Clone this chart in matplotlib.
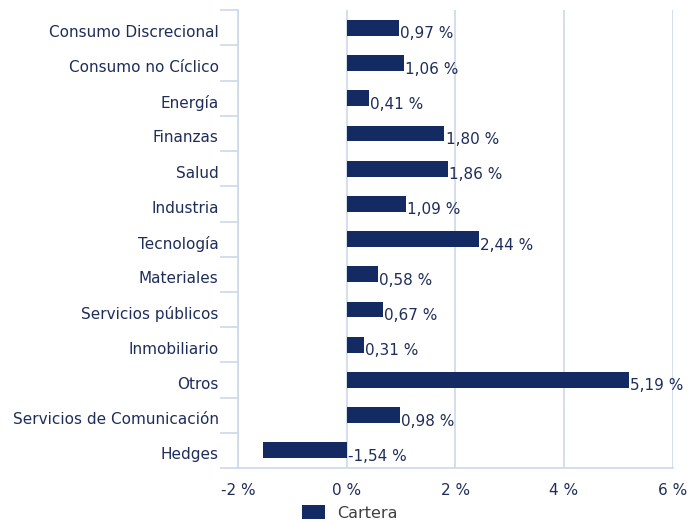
import matplotlib.pyplot as plt
import matplotlib.transforms as mtransforms
import numpy as np

# sector weights, top to bottom
sectores = ["Consumo Discrecional", "Consumo no Cíclico", "Energía", "Finanzas",
            "Salud", "Industria", "Tecnología", "Materiales", "Servicios públicos",
            "Inmobiliario", "Otros", "Servicios de Comunicación", "Hedges"]
cartera = [0.97, 1.06, 0.41, 1.80, 1.86, 1.09, 2.44, 0.58, 0.67, 0.31, 5.19, 0.98, -1.54]
xticks = [-2, 0, 2, 4, 6]

bar_col = "#132a63"
txt_col = "#1f2d5a"
grid_col = "#cdd8ea"

fig = plt.figure(figsize=(7, 5.22), dpi=100)
ax = fig.add_axes([0.34, 0.1034, 0.621, 0.877])

y = np.arange(len(sectores))
ax.barh(y, cartera, height=0.45, color=bar_col, label="Cartera", zorder=3)
ax.set_ylim(len(sectores) - 0.5, -0.5)
ax.set_xlim(-2, 6)

for yi, v in zip(y, cartera):
    ax.text(max(v, 0) + 0.02, yi + 0.17, ("%.2f %%" % v).replace(".", ","),
            va="center", ha="left", fontsize=11, color=txt_col, zorder=4)

ax.set_xticks(xticks)
ax.set_xticklabels(["%d %%" % t for t in xticks], fontsize=11, color=txt_col)
ax.tick_params(axis="x", length=0, pad=11)
ax.xaxis.grid(True, color=grid_col, linewidth=1.2, zorder=0)

ax.set_yticks(y)
ax.set_yticklabels(sectores, fontsize=11, color=txt_col)
ax.tick_params(axis="y", which="major", length=0, pad=14)
ax.set_yticks(np.arange(len(sectores) + 1) - 0.5, minor=True)
ax.tick_params(axis="y", which="minor", length=13, color=grid_col, width=1.2)

# nudge category labels down a little, like the original
shift = mtransforms.ScaledTranslation(0, -3 / 100, fig.dpi_scale_trans)
for lab in ax.get_yticklabels():
    lab.set_transform(lab.get_transform() + shift)

for s in ["top", "right"]:
    ax.spines[s].set_visible(False)
for s in ["left", "bottom"]:
    ax.spines[s].set_color(grid_col)
    ax.spines[s].set_linewidth(1.2)

fig.legend(loc="lower center", bbox_to_anchor=(0.5, -0.025), frameon=False,
           fontsize=11.5, labelcolor="#404040", handlelength=1.4, handleheight=1.0)

fig.savefig("out.png", dpi=100)
